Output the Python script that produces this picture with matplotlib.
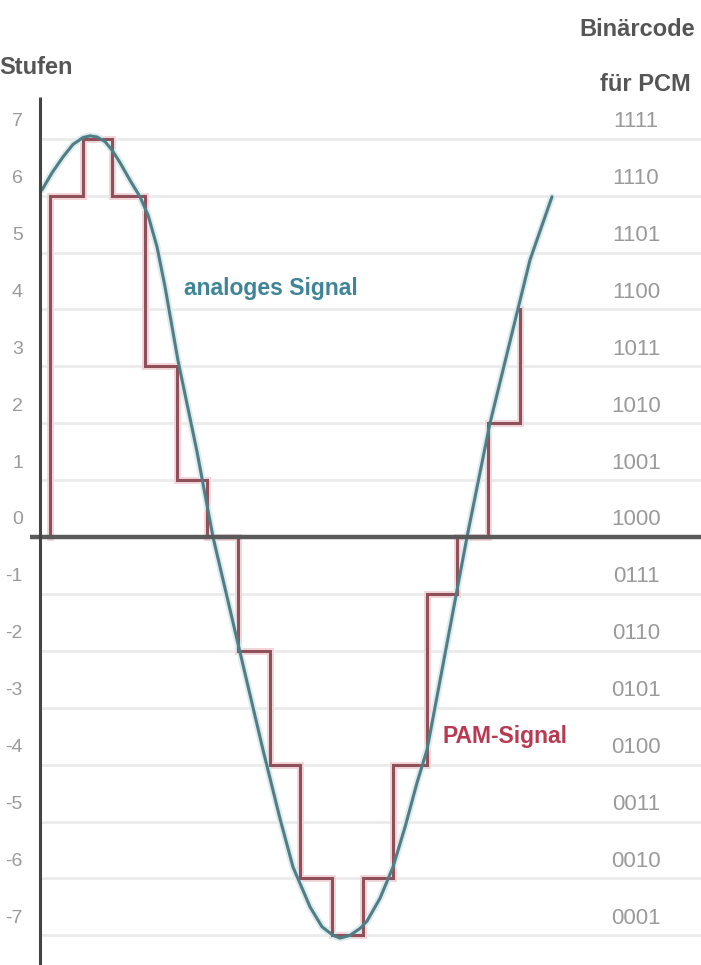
import numpy as np
import matplotlib.pyplot as plt

plt.rcParams['font.family'] = ['Liberation Sans', 'DejaVu Sans']

# -----------------------------------------------------------------------------
# Data (time axis in pixel-like units, 0 = y axis)

# analoges Signal: sample points along the curve
t_analog = [2, 12, 23, 33, 43, 50, 57, 65, 72, 80, 90, 100, 108, 117, 125, 138,
            157, 173, 197, 223, 240, 253, 270, 282, 293, 300, 310, 320, 327,
            340, 353, 365, 377, 387, 407, 427, 450, 477, 490, 512]
y_analog = [6.10, 6.40, 6.68, 6.90, 7.02, 7.05, 7.03, 6.95, 6.80, 6.58, 6.27,
            5.98, 5.66, 5.10, 4.40, 3.10, 1.50, 0.00, -1.80, -3.74, -4.95,
            -5.80, -6.50, -6.85, -7.00, -7.05, -7.00, -6.88, -6.75, -6.35,
            -5.80, -5.10, -4.32, -3.74, -1.87, 0.00, 2.00, 3.94, 4.87, 5.98]

# PAM-Signal: step edges and held levels
t_edges = [10, 43, 72, 105, 137, 167, 198, 230, 260, 292, 323, 353, 387, 417, 448, 480]
pam_levels = [6, 7, 6, 3, 1, 0, -2, -4, -6, -7, -6, -4, -1, 0, 2]
pam_end = 4.0

# quantisation levels and their PCM codes
stufen = [7, 6, 5, 4, 3, 2, 1, 0, -1, -2, -3, -4, -5, -6, -7]
codes = ['1111', '1110', '1101', '1100', '1011', '1010', '1001', '1000',
         '0111', '0110', '0101', '0100', '0011', '0010', '0001']

# -----------------------------------------------------------------------------

px_per_level = 56.9
axis_px_x = 40
axis_px_y = 537
W, H = 701, 965

fig = plt.figure(figsize=(W / 100, H / 100), dpi=100)
ax = fig.add_axes([0, 0, 1, 1])
ax.set_xlim(-axis_px_x, W - axis_px_x)
ax.set_ylim(-(H - axis_px_y) / px_per_level, axis_px_y / px_per_level)
ax.axis('off')

def px_x(p):
    return p - axis_px_x

def px_y(p):
    return (axis_px_y - p) / px_per_level

# grid lines
for s in stufen:
    if s != 0:
        ax.plot([0, W], [s, s], color='#ebebeb', lw=2.0, zorder=1,
                solid_capstyle='butt')

# PAM step signal
x_pam = np.repeat(t_edges, 2)
y_pam = np.concatenate([[0], np.repeat(pam_levels, 2), [pam_end]])
ax.plot(x_pam, y_pam, color='#f2d5da', lw=5.0, zorder=2, solid_joinstyle='miter')
ax.plot(x_pam, y_pam, color='#8e5059', lw=2.2, zorder=3, solid_joinstyle='miter')

# analog signal
ax.plot(t_analog, y_analog, color='#dcecef', lw=5.0, zorder=2,
        solid_capstyle='round', solid_joinstyle='round')
ax.plot(t_analog, y_analog, color='#527d85', lw=2.2, zorder=4,
        solid_capstyle='round', solid_joinstyle='round')

# axes lines
ax.plot([px_x(30), W], [0, 0], color='#5a5a5a', lw=3.2, zorder=5,
        solid_capstyle='butt')
ax.plot([0, 0], [px_y(97), px_y(H + 5)], color='#444444', lw=2.2, zorder=5,
        solid_capstyle='butt')

# level labels and PCM codes
for s, c in zip(stufen, codes):
    ax.text(px_x(23), s + 0.3, f'{s}', ha='right', va='center',
            fontsize=14, color='#9a9a9a', zorder=6)
    ax.text(px_x(636), s + 0.3, c, ha='center', va='center',
            fontsize=16, color='#9a9a9a', zorder=6)

# headers
ax.text(px_x(36), px_y(68), 'Stufen', ha='center', va='center',
        fontsize=17, fontweight='bold', color='#555555')
ax.text(px_x(637), px_y(30), 'Binärcode', ha='center', va='center',
        fontsize=17, fontweight='bold', color='#555555')
ax.text(px_x(645), px_y(85), 'für PCM', ha='center', va='center',
        fontsize=17, fontweight='bold', color='#555555')

# series labels
ax.text(px_x(271), px_y(288), 'analoges Signal', ha='center', va='center',
        fontsize=16.5, fontweight='bold', color='#3f8597', zorder=6)
ax.text(px_x(505), px_y(737), 'PAM-Signal', ha='center', va='center',
        fontsize=16.5, fontweight='bold', color='#b83a52', zorder=6)

plt.savefig('out.png', dpi=100)
